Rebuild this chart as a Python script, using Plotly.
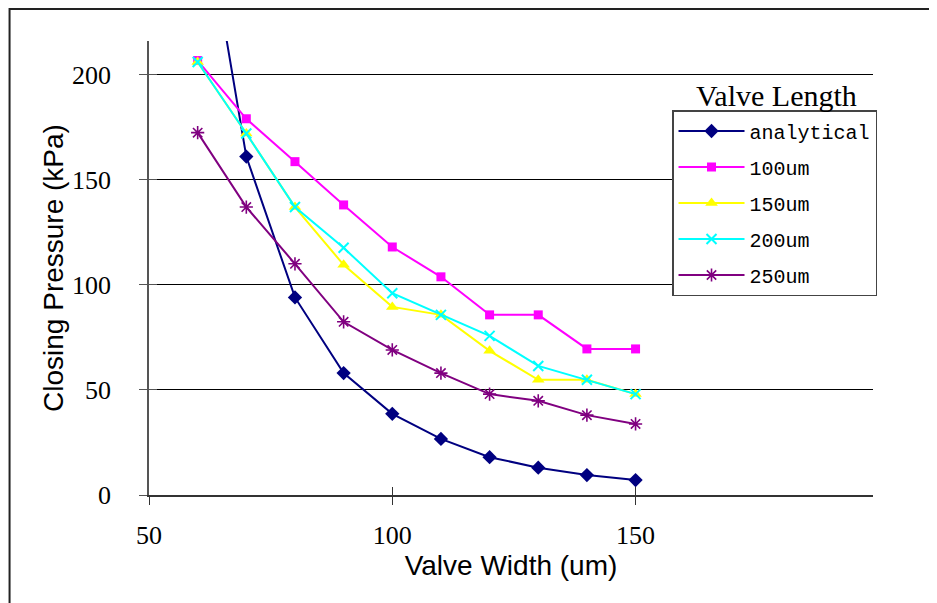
import plotly.graph_objects as go

widths = [60, 70, 80, 90, 100, 110, 120, 130, 140, 150]
analytical = [298, 161, 94, 58, 38.6, 26.7, 18, 13, 9.5, 7.1]
len_100 = [206.7, 179, 158.6, 138, 118, 103.8, 85.7, 85.7, 69.5, 69.5]
len_150 = [206, 172, 137, 109.5, 89.5, 85.7, 68.6, 54.8, 54.8, 48]
len_200 = [206, 172, 137, 117.6, 96, 85.7, 75.7, 61.4, 54.8, 48]
len_250 = [172.4, 137, 110, 82.4, 69, 58, 48, 44.8, 38, 33.8]

series = [
    ("analytical", analytical, "#000080", "diamond", 11, 0),
    ("100um", len_100, "#FF00FF", "square", 9, 0),
    ("150um", len_150, "#FFFF00", "triangle-up", 11, 0),
    ("200um", len_200, "#00FFFF", "x-thin", 10, 2),
    ("250um", len_250, "#800080", "asterisk-open", 11, 1.6),
]

x_ticks = [50, 100, 150]
y_ticks = [0, 50, 100, 150, 200]

fig = go.Figure()
for i, (name, vals, color, sym, size, mlw) in enumerate(series):
    marker = dict(symbol=sym, size=size, color=color)
    if mlw:
        marker["line"] = dict(color=color, width=mlw)
    fig.add_trace(go.Scatter(
        x=widths, y=vals, name=name, mode="lines+markers",
        line=dict(color=color, width=2), marker=marker,
        legendgroup=name, cliponaxis=True,
    ))

# dummy trace so overlay axes (inside half of cross ticks) get drawn
fig.add_trace(go.Scatter(x=[None], y=[None], xaxis="x2", yaxis="y2",
                         showlegend=False, hoverinfo="skip"))

tick_font = dict(family="Liberation Serif", size=26, color="black")
title_font = dict(family="Liberation Sans", size=28, color="black")

fig.update_layout(
    width=929, height=595,
    margin=dict(l=141, r=64, t=33, b=108),
    paper_bgcolor="white", plot_bgcolor="white",
    showlegend=True,
    xaxis=dict(
        range=[50, 198.8], tickvals=x_ticks, ticktext=[str(v) for v in x_ticks],
        showgrid=False, zeroline=False, showline=True, linecolor="#333333", linewidth=1.5,
        ticks="outside", ticklen=8, tickcolor="#333333", tickwidth=1.2,
        tickfont=tick_font, ticklabelstandoff=8,
        title=dict(text="Valve Width (um)", font=title_font, standoff=0),
    ),
    yaxis=dict(
        range=[0, 216], tickvals=y_ticks, ticktext=[str(v) for v in y_ticks],
        showgrid=True, gridcolor="black", gridwidth=1, zeroline=False,
        showline=True, linecolor="#555555", linewidth=1.5,
        ticks="outside", ticklen=8, tickcolor="#555555", tickwidth=1.2,
        tickfont=tick_font, ticklabelstandoff=23,
        title=dict(text="Closing Pressure (kPa)", font=title_font, standoff=0),
    ),
    xaxis2=dict(overlaying="x", matches="x", range=[50, 198.8], tickvals=x_ticks,
                showticklabels=False, showgrid=False, zeroline=False, showline=False,
                ticks="inside", ticklen=8, tickcolor="#333333", tickwidth=1.2),
    yaxis2=dict(overlaying="y", matches="y", range=[0, 216], tickvals=y_ticks,
                showticklabels=False, showgrid=False, zeroline=False, showline=False,
                ticks="inside", ticklen=8, tickcolor="#555555", tickwidth=1.2),
    legend=dict(
        x=0.7224, y=0.848, xanchor="left", yanchor="top",
        bordercolor="#444444", borderwidth=1.5, bgcolor="white",
        font=dict(family="Liberation Mono", size=20, color="black"),
        tracegroupgap=7, itemwidth=66,
    ),
    annotations=[dict(
        text="Valve Length", xref="paper", yref="paper", x=0.867, y=0.879,
        xanchor="center", yanchor="middle", showarrow=False,
        font=dict(family="Liberation Serif", size=30, color="black"),
    )],
    shapes=[dict(
        type="rect", xref="paper", yref="paper",
        x0=-0.1926, x1=1.3, y0=-0.4, y1=1.0705,
        line=dict(color="#222222", width=2), layer="below",
    )],
)

fig.write_html("out.html")
